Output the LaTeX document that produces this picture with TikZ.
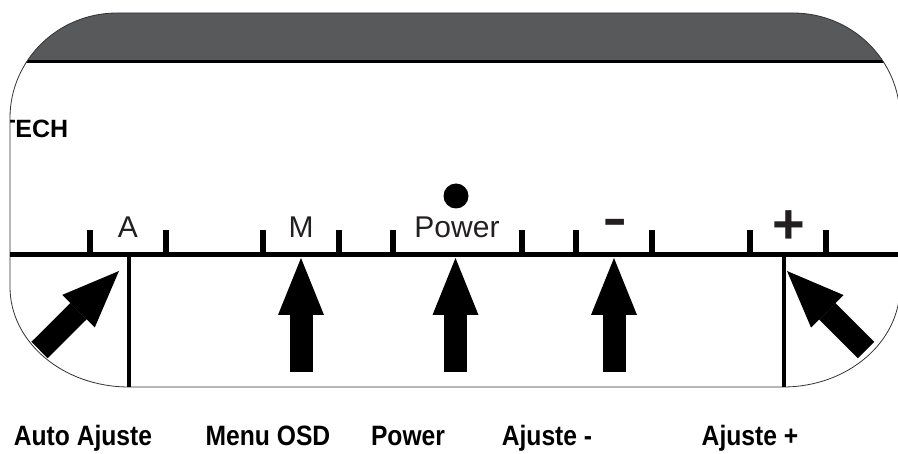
\documentclass[tikz,border=0pt]{standalone}
\usepackage{fontspec}
\setmainfont{Liberation Sans}
\newfontfamily\capfont[FakeStretch=0.88]{Liberation Sans}
\usetikzlibrary{arrows.meta}
\definecolor{bezel}{HTML}{58595B}
\definecolor{ink}{HTML}{231F20}
\begin{document}
\begin{tikzpicture}
    [
        x=1pt, y=-1pt,
        key/.style={inner sep=0pt, anchor=base, text=ink, font=\fontsize{30}{36}\selectfont},
        caption/.style={inner sep=0pt, anchor=base, font=\capfont\bfseries\fontsize{28}{34}\selectfont},
        notch/.style={line width=5.5pt},
        divider/.style={line width=4pt},
        pointer/.style={line width=23pt, -{Triangle[length=57pt, width=46pt, line width=0pt]}},
    ]
    \useasboundingbox (0,0) rectangle (898,454);
    \clip (0,0) rectangle (898,454);
    \begin{scope}
        \clip (10,118) .. controls (10,60) and (58,13) .. (117,13) -- (793,13)
            .. controls (852,13) and (900,60) .. (900,118) -- (900,287)
            .. controls (900,342) and (848,387) .. (783,387) -- (129,387)
            .. controls (63,387) and (10,342) .. (10,287) -- cycle;
        \fill [bezel] (0,0) rectangle (910,62);
        \draw [line width=3pt] (0,62) -- (910,62);
        \node (brand) at (0,138) [anchor=base west, inner sep=0pt, font=\bfseries\fontsize{25}{30}\selectfont] {TECH};
    \end{scope}
    \draw [line width=0.8pt, black!80] (10,118) .. controls (10,60) and (58,13) .. (117,13) -- (793,13)
        .. controls (852,13) and (900,60) .. (900,118) -- (900,287)
        .. controls (900,342) and (848,387) .. (783,387) -- (129,387)
        .. controls (63,387) and (10,342) .. (10,287) -- cycle;
    \draw [line width=5pt] (10,255) -- (910,255);
    \foreach \x in {90,166,263,339,393,522,576,652,750,826}
        \draw [notch] (\x,230) -- (\x,255);
    \draw [divider] (129,255) -- (129,387);
    \draw [divider] (783.5,255) -- (783.5,387);
    \node (keyA) at (128,238) [key] {A};
    \node (keyM) at (301,238) [key] {M};
    \node (keyPower) at (457,238) [key] {Power};
    \node (led) at (456,196) [circle, fill, inner sep=0pt, minimum size=25pt] {};
    \node (keyMinus) at (615,243) [key, font=\fontsize{76}{80}\selectfont] {-};
    \node (keyPlus) at (789,244) [key, font=\bfseries\fontsize{56}{60}\selectfont] {+};
    \coordinate (hitA) at (119,271);
    \coordinate (tailA) at (39.5,350);
    \coordinate (hitPlus) at (787,271);
    \coordinate (tailPlus) at (866,350);
    \draw [pointer] (tailA) -- (hitA);
    \draw [pointer] (tailPlus) -- (hitPlus);
    \foreach \x/\n in {301/M, 455.5/Power, 614/Minus} {
        \coordinate (hit\n) at (\x,258);
        \coordinate (tail\n) at (\x,372);
        \draw [pointer] (tail\n) -- (hit\n);
    }
    \node (capAuto) at (83,446) [caption] {Auto Ajuste};
    \node (capMenu) at (268,446) [caption] {Menu OSD};
    \node (capPower) at (408,446) [caption] {Power};
    \node (capMinus) at (547,446) [caption] {Ajuste -};
    \node (capPlus) at (750,446) [caption] {Ajuste +};
\end{tikzpicture}
\end{document}
